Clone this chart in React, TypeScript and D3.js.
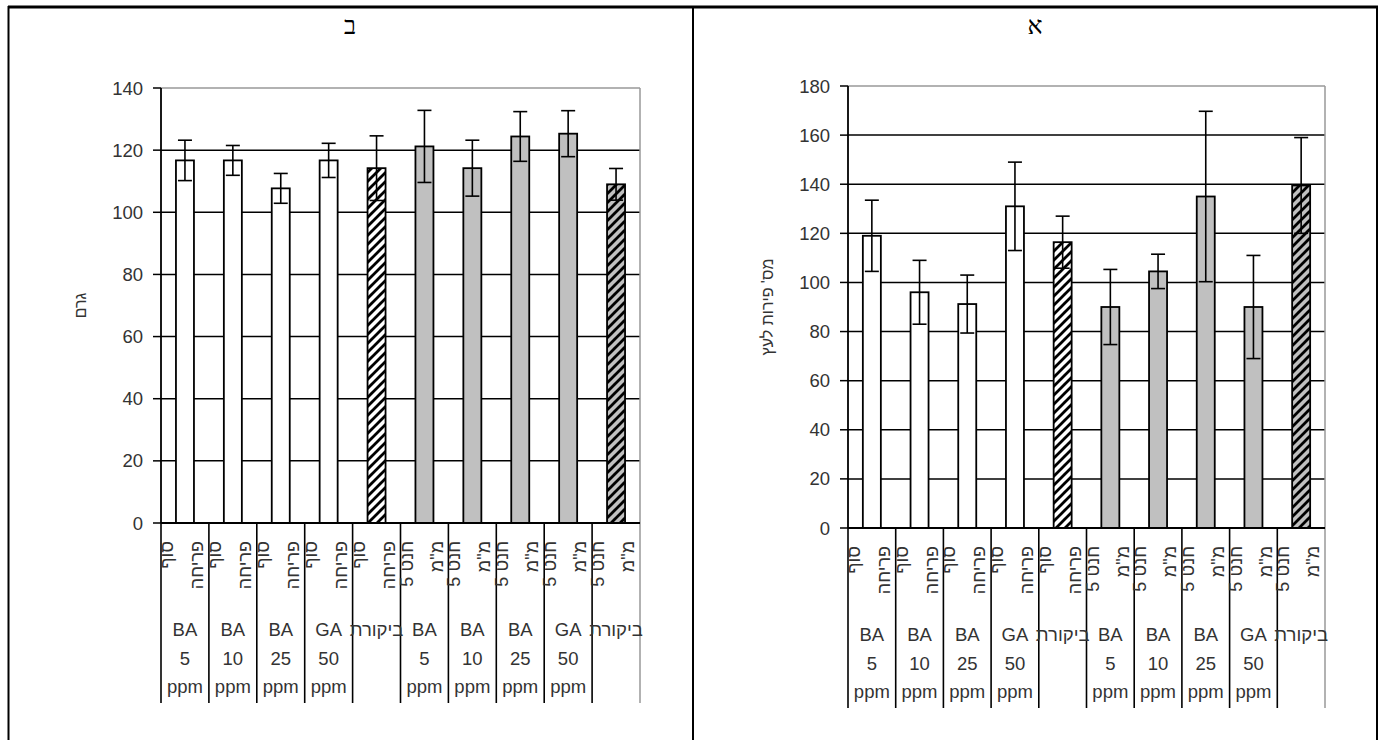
import React from "react";
import * as d3 from "d3";

// ---- data ----
const treatmentLabels: string[][] = [
  ["BA", "5", "ppm"],
  ["BA", "10", "ppm"],
  ["BA", "25", "ppm"],
  ["GA", "50", "ppm"],
  ["ביקורת"],
];
const stageLabels: string[][] = [
  ["סוף", "פריחה"],
  ["חנט 5", 'מ"מ'],
];
const categories = stageLabels.flatMap((s, si) =>
  treatmentLabels.map((t, ti) => ({ stage: si, treatment: ti, id: `${si}-${ti}` }))
);

// chart ב : weight (גרם)
const weightValues = [116.7, 116.7, 107.7, 116.7, 114.2, 121.2, 114.2, 124.4, 125.3, 109.0];
const weightErrors = [6.5, 4.8, 4.8, 5.5, 10.4, 11.6, 9.0, 8.0, 7.4, 5.1];
const weightTicks = [0, 20, 40, 60, 80, 100, 120, 140];

// chart א : fruit per tree
const fruitValues = [119, 96, 91.2, 131, 116.4, 90, 104.5, 135, 90, 139.5];
const fruitErrors = [14.5, 13, 11.8, 18, 10.6, 15.3, 7, 34.7, 21, 19.5];
const fruitTicks = [0, 20, 40, 60, 80, 100, 120, 140, 160, 180];

const FONT = "'Liberation Sans', Arial, sans-serif";

type ChartProps = {
  x0: number; x1: number; y0: number; yTop: number; max: number;
  ticks: number[]; values: number[]; errors: number[];
  yTitle: string; yTitleX: number; pid: string;
};

function Chart(p: ChartProps) {
  const x = d3.scaleBand<string>().domain(categories.map((c) => c.id)).range([p.x0, p.x1]).padding(0);
  const y = d3.scaleLinear().domain([0, p.max]).range([p.y0, p.yTop]);
  const step = x.step();
  const bw = 18;
  const cap = 14;
  return (
    <g>
      <defs>
        {["#ffffff", "#c0c0c0"].map((bg, i) => (
          <pattern key={i} id={`${p.pid}-h${i}`} patternUnits="userSpaceOnUse" width={9} height={9}>
            <rect width={9} height={9} fill={bg} />
            <path d="M-2,2 l4,-4 M0,9 l9,-9 M7,11 l4,-4" stroke="#000" strokeWidth={2.8} />
          </pattern>
        ))}
      </defs>
      {/* gridlines */}
      {p.ticks.filter((t) => t > 0 && t < p.max).map((t) => (
        <line key={t} x1={p.x0} x2={p.x1} y1={y(t)} y2={y(t)} stroke="#000" strokeWidth={1.5} />
      ))}
      <line x1={p.x0} x2={p.x1} y1={y(p.max)} y2={y(p.max)} stroke="#999" strokeWidth={1.5} />
      <line x1={p.x1} x2={p.x1} y1={y(p.max)} y2={p.y0 + 180} stroke="#999" strokeWidth={1.5} />
      {/* bars */}
      {categories.map((c, i) => {
        const cx = (x(c.id) as number) + step / 2;
        const hatched = c.treatment === treatmentLabels.length - 1;
        const fill = hatched ? `url(#${p.pid}-h${c.stage})` : c.stage === 0 ? "#ffffff" : "#c0c0c0";
        return (
          <rect key={c.id} x={cx - bw / 2} y={y(p.values[i])} width={bw} height={p.y0 - y(p.values[i])}
            fill={fill} stroke="#000" strokeWidth={1.8} />
        );
      })}
      {/* error bars */}
      {categories.map((c, i) => {
        const cx = (x(c.id) as number) + step / 2;
        const hi = y(p.values[i] + p.errors[i]);
        const lo = y(p.values[i] - p.errors[i]);
        return (
          <g key={c.id} stroke="#000" strokeWidth={1.6}>
            <line x1={cx} x2={cx} y1={hi} y2={lo} />
            <line x1={cx - cap / 2} x2={cx + cap / 2} y1={hi} y2={hi} />
            <line x1={cx - cap / 2} x2={cx + cap / 2} y1={lo} y2={lo} />
          </g>
        );
      })}
      {/* y axis */}
      <line x1={p.x0} x2={p.x0} y1={y(p.max)} y2={p.y0} stroke="#000" strokeWidth={1.8} />
      {p.ticks.map((t) => (
        <g key={t}>
          <line x1={p.x0 - 8} x2={p.x0} y1={y(t)} y2={y(t)} stroke="#000" strokeWidth={1.5} />
          <text x={p.x0 - 18} y={y(t) + 6.5} textAnchor="end" fontSize={18.5} fontFamily={FONT} fill="#333">{t}</text>
        </g>
      ))}
      <text transform={`translate(${p.yTitleX},${(p.y0 + p.yTop) / 2}) rotate(-90)`} textAnchor="middle"
        fontSize={16} fontFamily={FONT} fill="#333">{p.yTitle}</text>
      {/* x axis */}
      <line x1={p.x0} x2={p.x1} y1={p.y0} y2={p.y0} stroke="#000" strokeWidth={2} />
      {categories.map((c) => {
        const left = x(c.id) as number;
        return (
          <line key={c.id} x1={left} x2={left} y1={p.y0} y2={p.y0 + 180} stroke="#000" strokeWidth={1.6} />
        );
      })}
      {categories.map((c) => {
        const left = x(c.id) as number;
        const cx = left + step / 2;
        const st = stageLabels[c.stage];
        const tr = treatmentLabels[c.treatment];
        return (
          <g key={c.id} fontFamily={FONT} fill="#333">
            {st.map((s, k) => (
              <text key={k} transform={`translate(${left + 12 + k * 30},${p.y0 + 18}) rotate(-90)`}
                textAnchor="end" fontSize={18}>{s}</text>
            ))}
            {tr.map((s, k) => (
              <text key={k} x={cx} y={p.y0 + 113 + k * 28.5} textAnchor="middle" fontSize={18.5}>{s}</text>
            ))}
          </g>
        );
      })}
    </g>
  );
}

export default function App() {
  return (
    <svg width={1384} height={740} style={{ position: "absolute", left: 0, top: 0, background: "#fff" }}>
      <rect width={1384} height={740} fill="#fff" />
      {/* table frame */}
      <line x1={8} x2={1378} y1={7} y2={7} stroke="#000" strokeWidth={3} />
      <line x1={8.5} x2={8.5} y1={6} y2={740} stroke="#000" strokeWidth={2} />
      <line x1={693} x2={693} y1={6} y2={740} stroke="#000" strokeWidth={2} />
      <line x1={1377} x2={1377} y1={6} y2={740} stroke="#000" strokeWidth={2} />
      <text x={350} y={34} textAnchor="middle" fontSize={25} fontFamily="'Liberation Serif', 'Times New Roman', serif">ב</text>
      <text x={1035} y={34} textAnchor="middle" fontSize={25} fontFamily="'Liberation Serif', 'Times New Roman', serif">א</text>
      <Chart x0={161} x1={640} y0={523} yTop={88} max={140} ticks={weightTicks}
        values={weightValues} errors={weightErrors} yTitle="גרם" yTitleX={86} pid="b" />
      <Chart x0={848} x1={1325} y0={528} yTop={86} max={180} ticks={fruitTicks}
        values={fruitValues} errors={fruitErrors} yTitle="מס' פירות לעץ" yTitleX={773} pid="a" />
    </svg>
  );
}
